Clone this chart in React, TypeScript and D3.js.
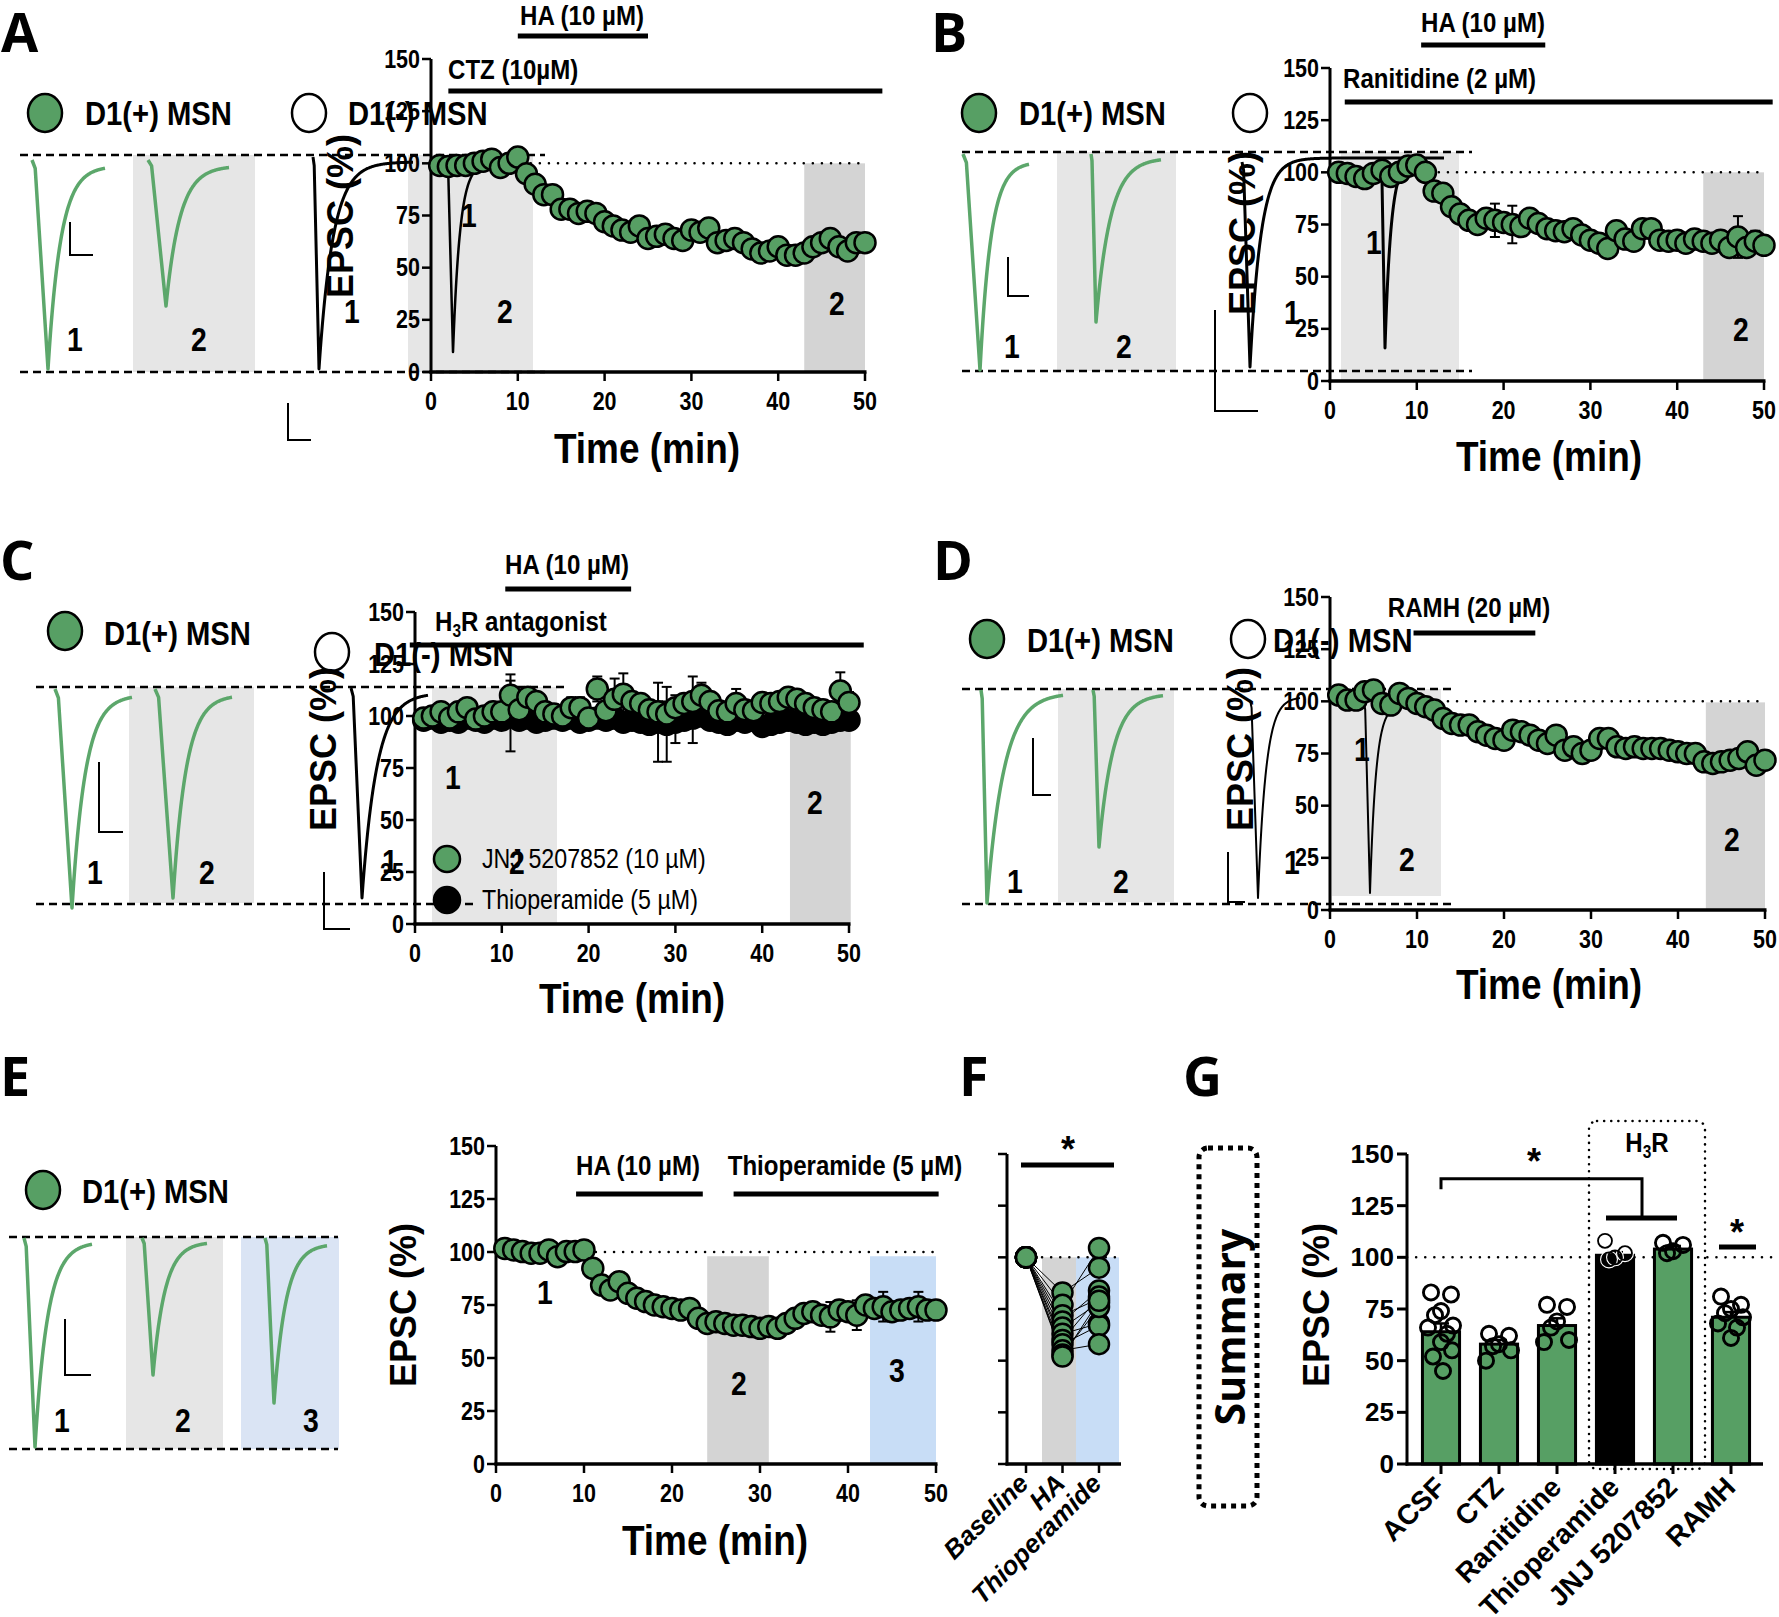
import React from 'react';
import * as d3 from 'd3';

// ---------------- DATA ----------------
const MINUTES = [1,2,3,4,5,6,7,8,9,10,11,12,13,14,15,16,17,18,19,20,21,22,23,24,25,26,27,28,29,30,31,32,33,34,35,36,37,38,39,40,41,42,43,44,45,46,47,48,49,50];
const Y_TICKS = [0, 25, 50, 75, 100, 125, 150];
const X_TICKS = [0, 10, 20, 30, 40, 50];

const A_CTZ = [99,98.5,99,99,100,101,102,98,100,103,95,90,85,85,78,78,76,77,76,72,70,68,67,70,64,65,66,64,63,68,67,69,62,63,64,62,59,57,58,60,56,56,57,60,62,64,60,58,62,62];
const A_SEM = [2,2,2,2,2,2,3,2,2,3,2,2,3,3,3,3,3,3,3,3,3,3,3,3,3,3,3,3,3,3,3,3,3,3,3,3,3,3,3,3,3,3,3,3,3,3,3,3,3,3];

const B_RAN = [100,99.5,98,97,99.5,101,98,100,103,103.5,100,91,90,83.5,80,77,75,78,77,76,75,74,78,75.5,73,72,71.5,73,70,67.5,66,63.5,72,68,67,73,73,67.5,67,67.5,66,68,67,66,67.5,64,69,64,67,65];
const B_SEM = [2,2,2,2,2,3,2,2,3,3,2,2,2,2,2,2,2,2,8,3,9,3,2,2,2,2,2,2,2,2,2,2,2,2,2,2,2,2,2,2,2,2,2,2,2,2,10,2,5,3];

const C_JNJ = [99,100,102,99,102,104,98.5,100,102,102,110,103,109,107,102,101,100,104,104,99,113,102.5,108,110.5,107,106,103,102,101,104,106,107,110,107,102.5,102,106,103,102.5,106.5,106,107,109,108,106,104,103,102,112,106.5];
const C_JNJ_SEM = [2,2,2,2,2,3,2,2,3,4,10,3,3,3,2,2,2,5,5,3,6,4,10,10,4,4,4,5,6,6,4,12,6,3,3,3,7,3,3,4,3,3,3,3,3,3,3,3,9,5];
const C_THIO = [98,99,97,98,97,99,98,97,99,98,100,98,99,97,98,99,98,99,97,98,99,98,99,97,98,97,96,97,96,97,98,99,100,98,97,96,98,97,98,95,96,97,98,97,96,97,96,97,98,98];
const C_THIO_SEM = [2,2,2,2,2,2,2,2,2,2,17,3,3,3,3,3,3,3,3,3,3,3,3,3,3,3,3,19,18,10,3,12,3,3,3,3,3,3,3,3,3,3,3,3,3,3,3,3,3,3];

const D_RAMH = [103,100.6,100.6,104.6,105.4,99,98.2,103.8,101.4,99,97.4,95.8,91.8,89.4,88.6,88.6,85.4,83.8,82.2,81.4,86.2,85.4,83.8,81.4,79.8,83.8,76.6,78.2,75,76.6,82.2,82.2,78.2,77.4,78.2,77.4,77.4,77.4,76.6,75.8,75,75,71,70.2,71,71.8,72.6,75.8,69.4,71.8];
const D_SEM = [2,2,2,2,2,2,2,2,2,2,2,2,2,2,2,2,2,2,2,2,2,2,2,2,2,2,2,2,2,2,2,2,2,2,2,2,2,2,2,2,2,2,2,2,2,2,2,2,2,2];

const E_HA_THIO = [101.7,101,100.2,99.4,99.4,101,97.8,100.2,100.2,101,92.3,84.4,82.1,86,80.5,78.2,76.6,75,74.2,73.4,72.6,73.4,68.7,66.3,67.1,66.3,65.5,65.5,64.8,64,64.8,64,66.3,68.7,71,71.8,70.2,69.4,72.6,71.8,70.2,75,73.4,74.2,71.8,72.6,73.4,74.2,72.6,72.6];
const E_SEM = [1,1,1,1,1,1,1,1,1,1,2,2,2,2,2,2,2,2,2,2,2,2,2,2,2,2,2,2,2,2,2,2,2,3,3,3,3,7,4,3,7,4,3,7,4,3,3,7,4,4];

const F_CATS = ['Baseline', 'HA', 'Thioperamide'];
const F_BASE = [100,100,100,100,100,100,100,100,100,100,100];
const F_HA = [83,77,72,69,66,63,60,58,55,53,52];
const F_THIO = [95,104.5,80,84,78,68,81,67,58,76,79];

const G_CATS = ['ACSF', 'CTZ', 'Ranitidine', 'Thioperamide', 'JNJ 5207852', 'RAMH'];
const G_MEAN = [64, 58, 67, 101, 104, 71];
const G_SEM = [4, 2, 3.5, 1.5, 1.5, 2.5];
const G_POINTS = [
  [83, 82, 74, 72, 67, 66, 63, 59, 55, 52, 45],
  [63, 62, 58, 57, 55, 50],
  [77, 76, 69, 66, 60, 59],
  [108, 102, 100, 99],
  [107, 106, 103, 102],
  [81, 77, 75, 73, 71, 68, 66, 61],
];

// ---------------- STYLE ----------------
const GREEN = '#579f64';
const TRACE_GREEN = '#5ca76b';
const LIGHT = '#e6e6e6';
const DARK = '#d4d4d4';
const BLUE_L = '#dae4f4';
const BLUE = '#c8ddf6';
const ARIAL = "'Liberation Sans',Arial,sans-serif";
const OPEN = "'Open Sans','Liberation Sans',sans-serif";
const SQ = 0.86; // horizontal condensing for the narrow labels
const JIT = [-10, 10, 0, -6, 12, -13, 6, 0, 11, -8, 2];

function NT({ x, y, size, anchor = 'start', weight = 'bold', baseline, children }:
  { x: number; y: number; size: number; anchor?: string; weight?: string; baseline?: string; children: React.ReactNode }) {
  return (
    <text transform={`translate(${x},${y}) scale(${SQ},1)`} textAnchor={anchor as any} dominantBaseline={baseline as any}
      fontFamily={ARIAL} fontWeight={weight} fontSize={size}>{children}</text>
  );
}

type Trace = { x0: number; yb: number; xMin: number; yMin: number; xEnd: number; yEnd: number; tau?: number; c: string; w: number };

const TRACES: Trace[] = [
  { x0: 32, yb: 160, xMin: 48, yMin: 369, xEnd: 105, yEnd: 166, c: TRACE_GREEN, w: 3.5 },
  { x0: 148, yb: 160, xMin: 166, yMin: 306, xEnd: 229, yEnd: 166, c: TRACE_GREEN, w: 3.5 },
  { x0: 313, yb: 157, xMin: 319, yMin: 369, xEnd: 413, yEnd: 162, tau: 14, c: '#000', w: 3 },
  { x0: 447, yb: 163, xMin: 453, yMin: 352, xEnd: 490, yEnd: 163, tau: 7, c: '#000', w: 2.5 },
  { x0: 963, yb: 154, xMin: 980, yMin: 370, xEnd: 1029, yEnd: 162, c: TRACE_GREEN, w: 3.5 },
  { x0: 1091, yb: 154, xMin: 1096, yMin: 322, xEnd: 1161, yEnd: 158, c: TRACE_GREEN, w: 3.5 },
  { x0: 1242, yb: 162, xMin: 1250, yMin: 367, xEnd: 1444, yEnd: 158, tau: 11, c: '#000', w: 3 },
  { x0: 1381, yb: 162, xMin: 1385, yMin: 348, xEnd: 1420, yEnd: 160, tau: 6, c: '#000', w: 3 },
  { x0: 55, yb: 689, xMin: 72, yMin: 908, xEnd: 132, yEnd: 695, c: TRACE_GREEN, w: 3.5 },
  { x0: 155, yb: 689, xMin: 173, yMin: 898, xEnd: 232, yEnd: 695, c: TRACE_GREEN, w: 3.5 },
  { x0: 351, yb: 688, xMin: 362, yMin: 898, xEnd: 428, yEnd: 693, c: '#000', w: 3 },
  { x0: 981, yb: 690, xMin: 987, yMin: 903, xEnd: 1063, yEnd: 693, c: TRACE_GREEN, w: 3.5 },
  { x0: 1093, yb: 690, xMin: 1099, yMin: 847, xEnd: 1163, yEnd: 694, c: TRACE_GREEN, w: 3.5 },
  { x0: 1250, yb: 700, xMin: 1258, yMin: 898, xEnd: 1300, yEnd: 697, tau: 8, c: '#000', w: 2 },
  { x0: 1364, yb: 702, xMin: 1370, yMin: 893, xEnd: 1395, yEnd: 705, tau: 6, c: '#000', w: 2 },
  { x0: 24, yb: 1238, xMin: 35, yMin: 1447, xEnd: 92, yEnd: 1242, c: TRACE_GREEN, w: 3.5 },
  { x0: 142, yb: 1238, xMin: 153, yMin: 1375, xEnd: 207, yEnd: 1242, c: TRACE_GREEN, w: 3.5 },
  { x0: 265, yb: 1238, xMin: 274, yMin: 1403, xEnd: 327, yEnd: 1244, c: TRACE_GREEN, w: 3.5 },
];

function tracePath(t: Trace): string {
  const pts: [number, number][] = [[t.x0, t.yb], [t.x0 + (t.xMin - t.x0) * 0.2, t.yb + (t.yMin - t.yb) * 0.04], [t.xMin, t.yMin]];
  const tau = t.tau ?? (t.xEnd - t.xMin) / 4.5;
  for (let x = t.xMin + 0.5; x <= t.xEnd; x += 0.5) {
    pts.push([x, t.yEnd + (t.yMin - t.yEnd) * Math.exp(-(x - t.xMin) / tau)]);
  }
  return d3.line()(pts) || '';
}

const SCALEBARS = [
  [70, 222, 255, 93], [288, 403, 440, 311],
  [1008, 257, 296, 1029], [1215, 310, 411, 1258],
  [99, 762, 832, 123], [324, 872, 929, 350],
  [1033, 738, 795, 1051], [1228, 852, 902, 1245],
  [65, 1319, 1375, 91],
];
const BOXES: [number, number, number, number, string][] = [
  [133, 155, 255, 372, LIGHT], [408, 155, 533, 372, LIGHT],
  [1057, 152, 1176, 371, LIGHT], [1341, 152, 1459, 381, LIGHT],
  [129, 687, 254, 903, LIGHT], [432, 687, 557, 924, LIGHT],
  [1058, 689, 1174, 902, LIGHT], [1332, 689, 1441, 896, LIGHT],
  [126, 1237, 223, 1449, LIGHT], [241, 1237, 339, 1449, BLUE_L],
];
const DASHES = [
  [20, 545, 155], [20, 545, 372],
  [962, 1472, 152], [962, 1472, 371],
  [36, 568, 687], [36, 476, 904],
  [962, 1452, 689], [962, 1452, 904],
  [9, 338, 1237], [9, 338, 1449],
];
const NUMS: [string, number, number][] = [
  ['1', 75, 340], ['2', 199, 340], ['1', 352, 312], ['1', 469, 216], ['2', 505, 312], ['2', 837, 304],
  ['1', 1012, 347], ['2', 1124, 347], ['1', 1374, 243], ['1', 1292, 313], ['2', 1741, 330],
  ['1', 95, 873], ['2', 207, 873], ['1', 453, 778], ['1', 390, 862], ['2', 517, 863], ['2', 815, 803],
  ['1', 1015, 882], ['2', 1121, 882], ['1', 1362, 750], ['1', 1292, 863], ['2', 1407, 860], ['2', 1732, 840],
  ['1', 62, 1421], ['2', 183, 1421], ['3', 311, 1421], ['1', 545, 1293], ['2', 739, 1384], ['3', 897, 1371],
];
const LEGENDS: [number, number, string, string, number, number][] = [
  [45, 113, GREEN, 'D1(+) MSN', 85, 125], [309, 113, '#fff', 'D1(-) MSN', 348, 125],
  [979, 113, GREEN, 'D1(+) MSN', 1019, 125], [1250, 113, '#fff', '', 0, 0],
  [65, 631, GREEN, 'D1(+) MSN', 104, 645], [332, 652, '#fff', 'D1(-) MSN', 374, 666],
  [987, 639, GREEN, 'D1(+) MSN', 1027, 652], [1248, 639, '#fff', 'D1(-) MSN', 1273, 652],
  [43, 1190, GREEN, 'D1(+) MSN', 82, 1203],
];
const PANEL_LETTERS: [string, number, number][] = [
  ['A', 1, 52], ['B', 931, 52], ['C', 0, 580], ['D', 933, 580], ['E', 0, 1096], ['F', 959, 1096], ['G', 1183, 1096],
];

type Series = { v: number[]; e: number[]; fill: string };
type Drug = { label: React.ReactNode; t0: number; t1: number; y: number; tx: number; ty: number; anchor: string };
type TC = {
  ax: number; y0: number; y150: number; x50: number;
  series: Series[];
  boxes: [number, number, number, string][];
  dotted: [number, number] | null;
  drugs: Drug[];
  epsc: [number, number]; time: [number, number];
};

const sub3 = (pre: string, post: string) => (<>{pre}<tspan fontSize="18" dy="6">3</tspan><tspan dy="-6">{post}</tspan></>);

const TCS: TC[] = [
  { ax: 431, y0: 372, y150: 59, x50: 865,
    series: [{ v: A_CTZ, e: A_SEM, fill: GREEN }],
    boxes: [[43, 50, 100, DARK]], dotted: [1, 50],
    drugs: [{ label: 'HA (10 µM)', t0: 10, t1: 25, y: 36, tx: 582, ty: 25, anchor: 'middle' },
            { label: 'CTZ (10µM)', t0: 2, t1: 52, y: 91, tx: 448, ty: 79, anchor: 'start' }],
    epsc: [340, 216], time: [647, 448] },
  { ax: 1330, y0: 381, y150: 68, x50: 1764,
    series: [{ v: B_RAN, e: B_SEM, fill: GREEN }],
    boxes: [[43, 50, 100, DARK]], dotted: [1, 50],
    drugs: [{ label: 'HA (10 µM)', t0: 10.5, t1: 24.8, y: 45, tx: 1483, ty: 32, anchor: 'middle' },
            { label: 'Ranitidine (2 µM)', t0: 1.7, t1: 51, y: 102, tx: 1343, ty: 88, anchor: 'start' }],
    epsc: [1242, 233], time: [1549, 456] },
  { ax: 415, y0: 924, y150: 612, x50: 849,
    series: [{ v: C_THIO, e: C_THIO_SEM, fill: '#000' }, { v: C_JNJ, e: C_JNJ_SEM, fill: GREEN }],
    boxes: [[43.2, 50.2, 99.5, DARK]], dotted: null,
    drugs: [{ label: 'HA (10 µM)', t0: 10.4, t1: 24.9, y: 589, tx: 567, ty: 574, anchor: 'middle' },
            { label: sub3('H', 'R antagonist'), t0: -0.6, t1: 51.7, y: 645, tx: 435, ty: 631, anchor: 'start' }],
    epsc: [323, 749], time: [632, 998] },
  { ax: 1330, y0: 910, y150: 597, x50: 1765,
    series: [{ v: D_RAMH, e: D_SEM, fill: GREEN }],
    boxes: [[43.2, 50, 99.5, DARK]], dotted: [1, 50],
    drugs: [{ label: 'RAMH (20 µM)', t0: 9.6, t1: 23.6, y: 633, tx: 1469, ty: 617, anchor: 'middle' }],
    epsc: [1240, 749], time: [1549, 984] },
  { ax: 496, y0: 1464, y150: 1146, x50: 936,
    series: [{ v: E_HA_THIO, e: E_SEM, fill: GREEN }],
    boxes: [[24, 31, 98, DARK], [42.5, 50, 98, BLUE]], dotted: [1, 50],
    drugs: [{ label: 'HA (10 µM)', t0: 9.1, t1: 23.5, y: 1194, tx: 638, ty: 1175, anchor: 'middle' },
            { label: 'Thioperamide (5 µM)', t0: 27, t1: 50.3, y: 1194, tx: 845, ty: 1175, anchor: 'middle' }],
    epsc: [403, 1305], time: [715, 1540] },
];

function TimeCourseBack({ p }: { p: TC }) {
  const x = d3.scaleLinear().domain([0, 50]).range([p.ax, p.x50]);
  const y = d3.scaleLinear().domain([0, 150]).range([p.y0, p.y150]);
  return (
    <g>
      {p.boxes.map(([t0, t1, top, f], i) => (
        <rect key={i} x={x(t0)} y={y(top)} width={x(t1) - x(t0)} height={p.y0 - y(top)} fill={f} />
      ))}
    </g>
  );
}

function TimeCourse({ p }: { p: TC }) {
  const x = d3.scaleLinear().domain([0, 50]).range([p.ax, p.x50]);
  const y = d3.scaleLinear().domain([0, 150]).range([p.y0, p.y150]);
  return (
    <g>
      {p.dotted && (
        <line x1={x(p.dotted[0])} x2={x(p.dotted[1])} y1={y(100)} y2={y(100)} stroke="#000" strokeWidth={2.5} strokeDasharray="0.1,9" strokeLinecap="round" />
      )}
      <line x1={p.ax} x2={p.ax} y1={p.y0 + 1.5} y2={p.y150} stroke="#000" strokeWidth={3} />
      <line x1={p.ax - 1.5} x2={p.x50 + 1.5} y1={p.y0} y2={p.y0} stroke="#000" strokeWidth={3.5} />
      {Y_TICKS.map(t => (
        <g key={'y' + t}>
          <line x1={p.ax - 9} x2={p.ax} y1={y(t)} y2={y(t)} stroke="#000" strokeWidth={2.5} />
          <NT x={p.ax - 11} y={y(t)} size={25} anchor="end" baseline="central">{t}</NT>
        </g>
      ))}
      {X_TICKS.map(t => (
        <g key={'x' + t}>
          <line x1={x(t)} x2={x(t)} y1={p.y0} y2={p.y0 + 9} stroke="#000" strokeWidth={2.5} />
          <NT x={x(t)} y={p.y0 + 29} size={25} anchor="middle" baseline="central">{t}</NT>
        </g>
      ))}
      {p.drugs.map((d, i) => (
        <g key={'d' + i}>
          <line x1={x(d.t0)} x2={x(d.t1)} y1={d.y} y2={d.y} stroke="#000" strokeWidth={5} />
          <NT x={d.tx} y={d.ty} size={28} anchor={d.anchor}>{d.label}</NT>
        </g>
      ))}
      {p.series.map((s, si) => (
        <g key={'s' + si}>
          {s.v.map((v, i) => (
            <g key={i} stroke="#000" strokeWidth={2}>
              <line x1={x(MINUTES[i])} x2={x(MINUTES[i])} y1={y(v - s.e[i])} y2={y(v + s.e[i])} />
              <line x1={x(MINUTES[i]) - 5} x2={x(MINUTES[i]) + 5} y1={y(v + s.e[i])} y2={y(v + s.e[i])} />
              <line x1={x(MINUTES[i]) - 5} x2={x(MINUTES[i]) + 5} y1={y(v - s.e[i])} y2={y(v - s.e[i])} />
            </g>
          ))}
          {s.v.map((v, i) => (
            <circle key={'c' + i} cx={x(MINUTES[i])} cy={y(v)} r={10.5} fill={s.fill} stroke="#000" strokeWidth={2.5} />
          ))}
        </g>
      ))}
      <NT x={p.time[0]} y={p.time[1]} size={43} anchor="middle" baseline="central">Time (min)</NT>
    </g>
  );
}

function PanelF() {
  const x = d3.scalePoint<string>().domain(F_CATS).range([1026, 1099]);
  const y = d3.scaleLinear().domain([0, 150]).range([1464, 1154]);
  const ax = 1007;
  return (
    <g>
      <rect x={1042} y={y(100)} width={34} height={1464 - y(100)} fill={DARK} />
      <rect x={1076} y={y(100)} width={43} height={1464 - y(100)} fill={BLUE} />
      <line x1={1042} x2={1118} y1={y(100)} y2={y(100)} stroke="#000" strokeWidth={2.5} strokeDasharray="0.1,9" strokeLinecap="round" />
      <line x1={ax} x2={ax} y1={1465.5} y2={y(150)} stroke="#000" strokeWidth={3} />
      <line x1={ax - 1.5} x2={1121} y1={1464} y2={1464} stroke="#000" strokeWidth={3.5} />
      {Y_TICKS.map(t => <line key={t} x1={ax - 9} x2={ax} y1={y(t)} y2={y(t)} stroke="#000" strokeWidth={2.5} />)}
      {F_CATS.map(c => (
        <g key={c}>
          <line x1={x(c)!} x2={x(c)!} y1={1464} y2={1473} stroke="#000" strokeWidth={2.5} />
          <text transform={`translate(${x(c)! + 4},${1485}) rotate(-45)`} textAnchor="end" fontFamily={ARIAL} fontWeight="bold" fontStyle="italic" fontSize={26}>{c}</text>
        </g>
      ))}
      {F_HA.map((v, i) => (
        <g key={'l' + i} stroke="#000" strokeWidth={1}>
          <line x1={x('Baseline')!} y1={y(F_BASE[i])} x2={x('HA')!} y2={y(v)} />
          <line x1={x('HA')!} y1={y(v)} x2={x('Thioperamide')!} y2={y(F_THIO[i])} />
        </g>
      ))}
      {F_BASE.map((v, i) => <circle key={'b' + i} cx={x('Baseline')!} cy={y(v)} r={10} fill={GREEN} stroke="#000" strokeWidth={2.5} />)}
      {F_HA.map((v, i) => <circle key={'h' + i} cx={x('HA')!} cy={y(v)} r={10} fill={GREEN} stroke="#000" strokeWidth={2.5} />)}
      {F_THIO.map((v, i) => <circle key={'t' + i} cx={x('Thioperamide')!} cy={y(v)} r={10} fill={GREEN} stroke="#000" strokeWidth={2.5} />)}
      <line x1={1021} x2={1114} y1={1165} y2={1165} stroke="#000" strokeWidth={5} />
      <text x={1068} y={1162} textAnchor="middle" fontFamily={ARIAL} fontWeight="bold" fontSize={36}>*</text>
    </g>
  );
}

function PanelG() {
  const x = d3.scaleBand<string>().domain(G_CATS).range([1412, 1760]).padding(0);
  const y = d3.scaleLinear().domain([0, 150]).range([1464, 1154]);
  const bw = x.bandwidth() * 0.64;
  const cx = (c: string) => x(c)! + x.bandwidth() / 2;
  const ax = 1407;
  return (
    <g>
      <rect x={1199} y={1148} width={58} height={358} rx={9} fill="none" stroke="#000" strokeWidth={5} strokeDasharray="5,5" />
      <text transform="translate(1229,1327) rotate(-90)" textAnchor="middle" dominantBaseline="central" fontFamily={OPEN} fontWeight={700} fontSize={41}>Summary</text>
      <rect x={1589} y={1121} width={116} height={348} rx={8} fill="none" stroke="#000" strokeWidth={2.5} strokeDasharray="0.1,7" strokeLinecap="round" />
      <NT x={1647} y={1152} size={28} anchor="middle">{sub3('H', 'R')}</NT>
      <line x1={ax} x2={1772} y1={y(100)} y2={y(100)} stroke="#000" strokeWidth={2.5} strokeDasharray="0.1,9" strokeLinecap="round" />
      {G_CATS.map((c, i) => (
        <g key={c}>
          <rect x={cx(c) - bw / 2} y={y(G_MEAN[i])} width={bw} height={1464 - y(G_MEAN[i])} fill={c === 'Thioperamide' ? '#000' : GREEN} stroke="#000" strokeWidth={3} />
          <line x1={cx(c)} x2={cx(c)} y1={y(G_MEAN[i])} y2={y(G_MEAN[i] + G_SEM[i])} stroke="#000" strokeWidth={2.5} />
          <line x1={cx(c) - 8} x2={cx(c) + 8} y1={y(G_MEAN[i] + G_SEM[i])} y2={y(G_MEAN[i] + G_SEM[i])} stroke="#000" strokeWidth={2.5} />
          {G_POINTS[i].map((v, j) => (
            <circle key={j} cx={cx(c) + JIT[j % JIT.length]} cy={y(v)} r={8} fill="none" stroke={c === 'Thioperamide' ? '#fff' : '#000'} strokeWidth={2} />
          ))}
          {G_POINTS[i].map((v, j) => (
            <circle key={'w' + j} cx={cx(c) + JIT[j % JIT.length]} cy={y(v)} r={7} fill="none" stroke="#000" strokeWidth={1.8} />
          ))}
          <line x1={cx(c)} x2={cx(c)} y1={1464} y2={1474} stroke="#000" strokeWidth={3} />
          <text transform={`translate(${cx(c) + 6},${1489}) rotate(-45)`} textAnchor="end" fontFamily={ARIAL} fontWeight="bold" fontSize={28}>{c}</text>
        </g>
      ))}
      <line x1={ax} x2={ax} y1={1465.5} y2={y(150)} stroke="#000" strokeWidth={3} />
      <line x1={ax - 1.5} x2={1763} y1={1464} y2={1464} stroke="#000" strokeWidth={3.5} />
      {Y_TICKS.map(t => (
        <g key={t}>
          <line x1={ax - 10} x2={ax} y1={y(t)} y2={y(t)} stroke="#000" strokeWidth={3} />
          <text x={ax - 13} y={y(t)} textAnchor="end" dominantBaseline="central" fontFamily={ARIAL} fontWeight="bold" fontSize={26}>{t}</text>
        </g>
      ))}
      <path d={`M${cx('ACSF')},${y(133)} V${y(138)} H${1642} V${y(119)}`} fill="none" stroke="#000" strokeWidth={3} />
      <line x1={1606} x2={1677} y1={y(119)} y2={y(119)} stroke="#000" strokeWidth={5} />
      <text x={1534} y={1174} textAnchor="middle" fontFamily={ARIAL} fontWeight="bold" fontSize={36}>*</text>
      <line x1={1719} x2={1756} y1={y(105)} y2={y(105)} stroke="#000" strokeWidth={5} />
      <text x={1737} y={1245} textAnchor="middle" fontFamily={ARIAL} fontWeight="bold" fontSize={36}>*</text>
      <text transform="translate(1316,1305) rotate(-90)" textAnchor="middle" dominantBaseline="central" fontFamily={ARIAL} fontWeight="bold" fontSize={36}>EPSC (%)</text>
    </g>
  );
}

export default function App() {
  return (
    <svg width={1779} height={1617} viewBox="0 0 1779 1617" style={{ position: 'absolute', left: 0, top: 0, background: '#fff' }}>
      <rect width={1779} height={1617} fill="#fff" />
      {BOXES.map(([x0, y0, x1, y1, f], i) => <rect key={'bx' + i} x={x0} y={y0} width={x1 - x0} height={y1 - y0} fill={f} />)}
      {TCS.map((p, i) => <TimeCourseBack key={'tb' + i} p={p} />)}
      {DASHES.map(([x0, x1, yy], i) => <line key={'ds' + i} x1={x0} x2={x1} y1={yy} y2={yy} stroke="#000" strokeWidth={2.5} strokeDasharray="8,5" />)}
      {TRACES.map((t, i) => <path key={'tr' + i} d={tracePath(t)} fill="none" stroke={t.c} strokeWidth={t.w} strokeLinejoin="round" />)}
      {SCALEBARS.map(([x, y0, y1, x1], i) => <path key={'sb' + i} d={`M${x},${y0} V${y1} H${x1}`} fill="none" stroke="#000" strokeWidth={2} />)}
      {TCS.map((p, i) => <TimeCourse key={'tc' + i} p={p} />)}
      <PanelF />
      <PanelG />
      {NUMS.map(([s, x, y], i) => <NT key={'n' + i} x={x} y={y} size={33} anchor="middle" baseline="central">{s}</NT>)}
      <circle cx={447} cy={859} r={13} fill={GREEN} stroke="#000" strokeWidth={2.5} />
      <NT x={482} y={868} size={27} weight="normal">JNJ 5207852 (10 µM)</NT>
      <circle cx={447} cy={900} r={13} fill="#000" stroke="#000" strokeWidth={2.5} />
      <NT x={482} y={909} size={27} weight="normal">Thioperamide (5 µM)</NT>
      {LEGENDS.map(([cx, cy, f, t, tx, ty], i) => (
        <g key={'lg' + i}>
          <ellipse cx={cx} cy={cy} rx={17} ry={19} fill={f} stroke="#000" strokeWidth={2.5} />
          {t && <NT x={tx} y={ty} size={34}>{t}</NT>}
        </g>
      ))}
      {TCS.map((p, i) => (
        <text key={'ep' + i} transform={`translate(${p.epsc[0]},${p.epsc[1]}) rotate(-90)`} textAnchor="middle" dominantBaseline="central" fontFamily={ARIAL} fontWeight="bold" fontSize={36}>EPSC (%)</text>
      ))}
      {PANEL_LETTERS.map(([s, x, y]) => <text key={s} x={x} y={y} fontFamily={OPEN} fontWeight="bold" fontSize={54}>{s}</text>)}
    </svg>
  );
}
